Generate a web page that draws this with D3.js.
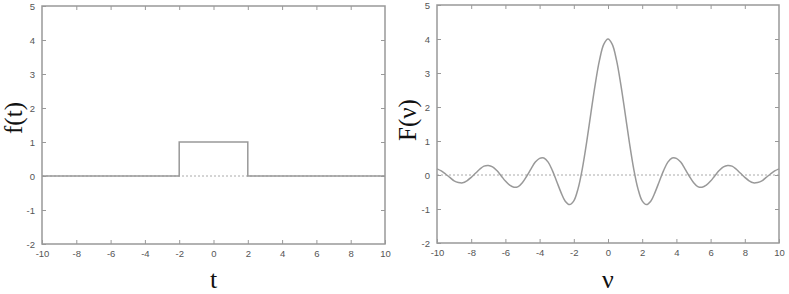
<!DOCTYPE html>
<html>
<head>
<meta charset="utf-8">
<script src="https://cdn.jsdelivr.net/npm/d3@7"></script>
<style>
  body { margin: 0; background: #fff; }
  svg { display: block; }
</style>
</head>
<body>
<div id="graph"></div>
<script>
// rect function f(t)
var rectT = [-10, -2, -2, 2, 2, 10];
var rectF = [0, 0, 1, 1, 0, 0];

// its transform F(nu), every 0.25
var nuValues = d3.range(-40, 41).map(function(i) { return i * 0.25; });
var specF = [
  0.18, 0.12, 0.03, -0.07, -0.17, -0.22, -0.23, -0.17, -0.07, 0.05, 0.17, 0.26, 0.28, 0.24, 0.13, -0.02,
  -0.18, -0.30, -0.36, -0.34, -0.22, -0.03, 0.18, 0.38, 0.49, 0.50, 0.38, 0.13, -0.19, -0.51, -0.77, -0.87,
  -0.76, -0.40, 0.19, 0.96, 1.82, 2.66, 3.37, 3.84, 4.00,
  3.84, 3.37, 2.66, 1.82, 0.96, 0.19, -0.40, -0.76, -0.87, -0.77, -0.51, -0.19, 0.13, 0.38, 0.50, 0.49,
  0.38, 0.18, -0.03, -0.22, -0.34, -0.36, -0.30, -0.18, -0.02, 0.13, 0.24, 0.28, 0.26, 0.17, 0.05, -0.07,
  -0.17, -0.23, -0.22, -0.17, -0.07, 0.03, 0.12, 0.18
];

var xTicks = [-10, -8, -6, -4, -2, 0, 2, 4, 6, 8, 10];
var yTicks = [-2, -1, 0, 1, 2, 3, 4, 5];

var width = 789, height = 294;
var frameColor = "#999";
var textColor = "#555";

var svg = d3.select("#graph")
    .append("svg")
    .attr("width", width)
    .attr("height", height);

// plain hyphen minus, like gnuplot
var fmt = function(d) { return String(d); };

function drawPanel(opts) {
    var x = d3.scaleLinear().domain([-10, 10]).range([opts.left, opts.right]);
    var y = d3.scaleLinear().domain([-2, 5]).range([opts.bottom, opts.top]);
    var g = svg.append("g");

    // zero axis, dotted
    g.append("line")
        .attr("x1", x(-10)).attr("x2", x(10))
        .attr("y1", y(0)).attr("y2", y(0))
        .attr("stroke", "#aaa")
        .attr("stroke-width", 1)
        .attr("stroke-dasharray", "2,2");

    // inward ticks on all four sides
    var tickLen = 4;
    g.append("g")
        .attr("transform", "translate(0," + opts.bottom + ")")
        .call(d3.axisBottom(x).tickValues(xTicks).tickSize(-tickLen).tickPadding(6).tickFormat(fmt));
    g.append("g")
        .attr("transform", "translate(0," + opts.top + ")")
        .call(d3.axisTop(x).tickValues(xTicks.slice(1, -1)).tickSize(-tickLen).tickFormat(""));
    g.append("g")
        .attr("transform", "translate(" + opts.left + ",0)")
        .call(d3.axisLeft(y).tickValues(yTicks).tickSize(-tickLen).tickPadding(7).tickFormat(fmt));
    g.append("g")
        .attr("transform", "translate(" + opts.right + ",0)")
        .call(d3.axisRight(y).tickValues(yTicks.slice(1, -1)).tickSize(-tickLen).tickFormat(""));

    g.selectAll(".domain").remove();
    g.selectAll(".tick line").attr("stroke", frameColor).attr("stroke-width", 1);
    g.selectAll(".tick text")
        .attr("fill", textColor)
        .attr("font-family", "Liberation Sans, Arial, sans-serif")
        .attr("font-size", 9.5);

    // frame
    g.append("rect")
        .attr("x", opts.left).attr("y", opts.top)
        .attr("width", opts.right - opts.left)
        .attr("height", opts.bottom - opts.top)
        .attr("fill", "none")
        .attr("stroke", frameColor)
        .attr("stroke-width", 1.5);

    // the curve
    var pts = opts.xs.map(function(d, i) { return [d, opts.ys[i]]; });
    var line = d3.line()
        .x(function(d) { return x(d[0]); })
        .y(function(d) { return y(d[1]); })
        .curve(opts.curve);
    g.append("path")
        .datum(pts)
        .attr("d", line)
        .attr("fill", "none")
        .attr("stroke", "#999")
        .attr("stroke-width", 1.5);

    // axis titles
    g.append("text")
        .attr("x", (opts.left + opts.right) / 2)
        .attr("y", 288)
        .attr("text-anchor", "middle")
        .attr("font-family", "Liberation Serif, Times New Roman, serif")
        .attr("font-size", 26)
        .attr("fill", "#111")
        .text(opts.xLabel);
    g.append("text")
        .attr("transform", "translate(" + opts.yLabelX + "," + opts.yLabelY + ") rotate(-90)")
        .attr("text-anchor", "middle")
        .attr("font-family", "Liberation Serif, Times New Roman, serif")
        .attr("font-size", 25)
        .attr("fill", "#111")
        .text(opts.yLabel);
}

drawPanel({
    left: 42, right: 385, top: 6, bottom: 244,
    xs: rectT, ys: rectF, curve: d3.curveLinear,
    xLabel: "t", yLabel: "f(t)", yLabelX: 22, yLabelY: 118
});

drawPanel({
    left: 437, right: 779, top: 5, bottom: 243,
    xs: nuValues, ys: specF, curve: d3.curveCatmullRom,
    xLabel: "ν", yLabel: "F(ν)", yLabelX: 416, yLabelY: 120
});
</script>
</body>
</html>
